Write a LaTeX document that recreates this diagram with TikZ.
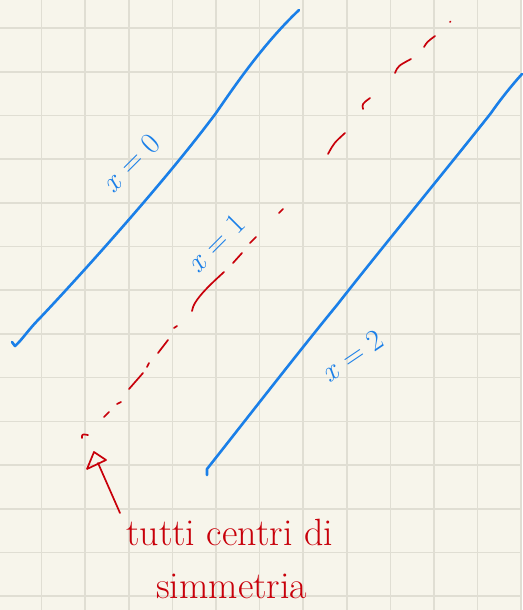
\documentclass[tikz,border=0pt]{standalone}
\usepackage{tikz}
\definecolor{paper}{HTML}{F7F5EB}
\definecolor{gridc}{HTML}{E0DED3}
\definecolor{pen}{HTML}{1A7FE8}
\definecolor{ink}{HTML}{C8000A}
\tikzset{
  blueline/.style={draw=pen, line width=2.6pt, line cap=round, line join=round},
  redstroke/.style={draw=ink, line width=1.7pt, line cap=round, line join=round},
  bluelabel/.style={text=pen, font=\fontsize{30}{32}\selectfont, inner sep=0pt},
  redlabel/.style={text=ink, font=\fontsize{38}{44}\selectfont, inner sep=0pt},
}
\begin{document}
\begin{tikzpicture}[x=1pt,y=-1pt]
\useasboundingbox (0,0) rectangle (522,610);
\fill[paper] (0,0) rectangle (522,610);
% grid
\foreach \i in {0,...,11} {
  \draw[gridc, line width=1.6pt] ({41.5+43.6*\i},0) -- ({41.5+43.6*\i},610);
}
\foreach \j in {0,...,13} {
  \draw[gridc, line width=1.6pt] (0,{28+43.7*\j}) -- (522,{28+43.7*\j});
}
% line x=0
\draw[blueline] (12,342) -- (15,346) .. controls (22,340) and (28,330) .. (40,318)
  .. controls (90,265) and (170,175) .. (216,113)
  .. controls (232,90) and (262,45) .. (299,10);
% line x=2
\draw[blueline] (207,475) -- (207,469) .. controls (230,440) and (300,350) .. (337,305)
  .. controls (380,250) and (450,165) .. (491,113)
  .. controls (500,100) and (512,85) .. (522,74);
% red dashed line (centres)
\draw[redstroke] (450,22) -- (450.5,21.5);
\draw[redstroke] (424,47) .. controls (427,42) .. (435,36);
\draw[redstroke] (395,73) .. controls (398,66) .. (411,59);
\draw[redstroke] (363,109) .. controls (362,104) .. (370,98);
\draw[redstroke] (328,154) .. controls (334,143) .. (345,133);
\draw[redstroke] (279,213) -- (283,209);
\draw[redstroke] (250,243) -- (256,237);
\draw[redstroke] (233,263) -- (242,253);
\draw[redstroke] (192,311) .. controls (193,300) and (212,283) .. (224,272);
\draw[redstroke] (174,328) -- (177,326);
\draw[redstroke] (158,353) -- (168,340);
\draw[redstroke] (147,367) -- (149,363);
\draw[redstroke] (129,389) -- (143,373);
\draw[redstroke] (117,404) -- (121,402);
\draw[redstroke] (104,417) -- (109,412);
\draw[redstroke] (82,438) .. controls (82,434) .. (88,435);
% labels
\node[bluelabel, rotate=45] (l0) at (131,163) {\textit{x} = 0};
\node[bluelabel, rotate=45] (l1) at (216,243) {\textit{x} = 1};
\node[bluelabel, rotate=34] (l2) at (352,356) {\textit{x} = 2};
% annotation
\node[redlabel, anchor=base west] (t1) at (126,545) {tutti centri di};
\node[redlabel, anchor=base west] (t2) at (156,598) {simmetria};
\coordinate (tip) at (94,452);
\coordinate (tail) at (120,513);
\draw[redstroke] (tip) -- (106,460) -- (87,469) -- cycle;
\draw[redstroke] (98,463) -- (tail);
\end{tikzpicture}
\end{document}
